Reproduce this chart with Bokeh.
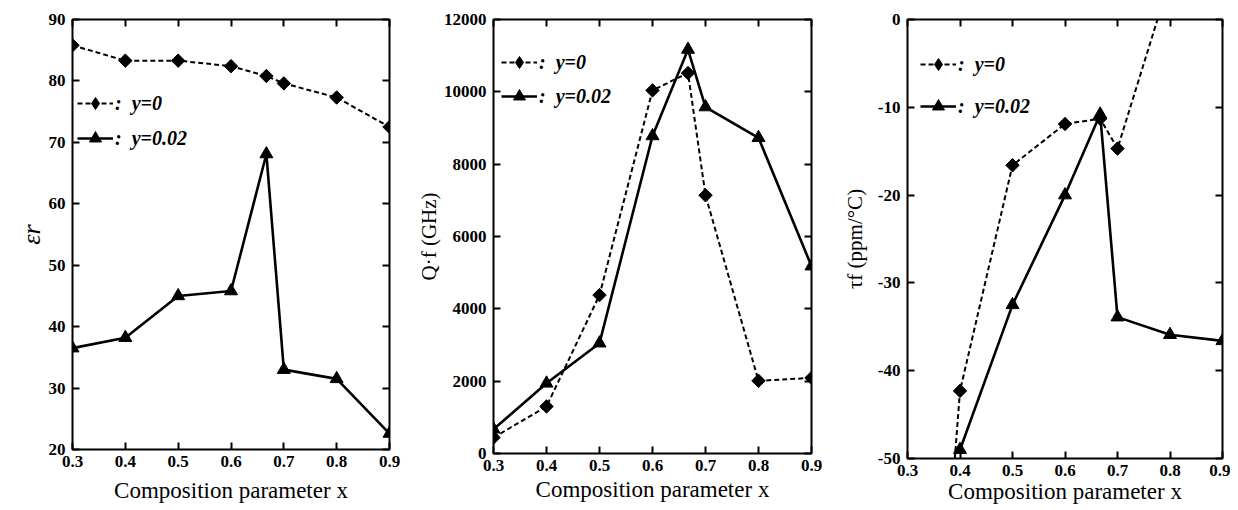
import numpy as np
from bokeh.plotting import figure
from bokeh.layouts import row
from bokeh.models import (Range1d, FixedTicker, LinearAxis, Legend, LegendItem,
                          CustomJSTickFormatter)
from bokeh.embed import file_html
from bokeh.resources import INLINE

# ---- data ----
x_vals = [0.3, 0.4, 0.5, 0.6, 0.667, 0.7, 0.8, 0.9]
x_ticks = [0.3, 0.4, 0.5, 0.6, 0.7, 0.8, 0.9]

eps_y0 = [85.8, 83.3, 83.3, 82.4, 80.8, 79.6, 77.3, 72.5]
eps_y002 = [36.5, 38.2, 45.0, 45.8, 68.1, 33.0, 31.5, 22.6]

qf_y0 = [440, 1300, 4380, 10040, 10520, 7140, 2010, 2090]
qf_y002 = [670, 1940, 3050, 8780, 11170, 9580, 8730, 5180]

tau_x_y0 = [0.3, 0.4, 0.5, 0.6, 0.667, 0.7, 0.8]
tau_y0 = [-120.0, -42.3, -16.6, -11.9, -11.3, -14.7, 4.6]
tau_x_y002 = [0.4, 0.5, 0.6, 0.667, 0.7, 0.8, 0.9]
tau_y002 = [-49.0, -32.5, -20.0, -10.8, -33.9, -35.9, -36.6]

eps_ticks = [20, 30, 40, 50, 60, 70, 80, 90]
qf_ticks = [0, 2000, 4000, 6000, 8000, 10000, 12000]
tau_ticks = [-50, -40, -30, -20, -10, 0]

legend_labels = [":  y=0", ":  y=0.02"]
x_label = "Composition parameter x"
y_labels = ["εr", "Q·f (GHz)", "τf (ppm/°C)"]

SERIF = "Liberation Serif"


def panel(xa, ya, xb, yb, yrange, yticks, ylabel, fw, fh, bl, br, bt, bb,
          leg_loc, leg_spacing, ylabel_size, ylabel_style, ylabel_standoff,
          xlabel_standoff):
    p = figure(output_backend="svg", toolbar_location=None,
               frame_width=fw, frame_height=fh,
               min_border_left=bl, min_border_right=br,
               min_border_top=bt, min_border_bottom=bb,
               x_range=Range1d(0.3, 0.9), y_range=Range1d(*yrange),
               background_fill_color="white", border_fill_color="white")
    p.grid.visible = False
    p.outline_line_color = "black"
    p.outline_line_width = 2
    for ax in (p.xaxis[0], p.yaxis[0]):
        ax.axis_line_color = None
        ax.major_tick_in = 7
        ax.major_tick_out = 0
        ax.major_tick_line_width = 2
        ax.minor_tick_line_color = None
        ax.major_label_text_font = SERIF
        ax.major_label_text_font_style = "bold"
        ax.major_label_text_font_size = "17px"
        ax.major_label_text_color = "black"
        ax.axis_label_text_font = SERIF
        ax.axis_label_text_color = "black"
    p.xaxis[0].ticker = FixedTicker(ticks=x_ticks)
    p.xaxis[0].formatter = CustomJSTickFormatter(code="return tick.toFixed(1)")
    p.yaxis[0].ticker = FixedTicker(ticks=yticks)
    p.yaxis[0].formatter = CustomJSTickFormatter(code="return tick.toFixed(0)")
    p.xaxis[0].axis_label = x_label
    p.xaxis[0].axis_label_text_font_size = "23px"
    p.xaxis[0].axis_label_text_font_style = "normal"
    p.xaxis[0].axis_label_standoff = xlabel_standoff
    p.xaxis[0].major_label_standoff = 6
    p.yaxis[0].axis_label = ylabel
    p.yaxis[0].axis_label_text_font_size = ylabel_size
    p.yaxis[0].axis_label_text_font_style = ylabel_style
    p.yaxis[0].axis_label_standoff = ylabel_standoff
    p.yaxis[0].major_label_standoff = 7

    blank = CustomJSTickFormatter(code="return ''")
    top = LinearAxis(ticker=FixedTicker(ticks=x_ticks), formatter=blank,
                     axis_line_color=None, major_tick_in=7, major_tick_out=0,
                     major_tick_line_width=2, minor_tick_line_color=None,
                     major_label_standoff=0)
    right = LinearAxis(ticker=FixedTicker(ticks=yticks), formatter=blank,
                       axis_line_color=None, major_tick_in=7, major_tick_out=0,
                       major_tick_line_width=2, minor_tick_line_color=None,
                       major_label_standoff=0)
    p.add_layout(top, "above")
    p.add_layout(right, "right")

    l0 = p.line(xa, ya, line_color="black", line_width=2, line_dash="5 3")
    # diamond (used by the legend), covered by a rotated square of the same colour
    d0 = p.scatter(xa, ya, marker="diamond", size=12,
                   fill_color="black", line_color="black")
    p.scatter(xa, ya, marker="square", angle=np.pi / 4, size=9.5,
              fill_color="black", line_color="black")
    l1 = p.line(xb, yb, line_color="black", line_width=2.6)
    s1 = p.scatter(xb, yb, marker="triangle", size=13,
                   fill_color="black", line_color="black")

    leg = Legend(items=[LegendItem(label=legend_labels[0], renderers=[l0, d0]),
                        LegendItem(label=legend_labels[1], renderers=[l1, s1])],
                 location=leg_loc, orientation="vertical",
                 border_line_color=None, background_fill_alpha=0,
                 padding=0, margin=0, spacing=leg_spacing,
                 glyph_width=36, glyph_height=30, label_height=30,
                 label_standoff=2,
                 label_text_font=SERIF, label_text_font_style="bold italic",
                 label_text_font_size="20px", label_text_color="black")
    p.add_layout(leg)
    return p


p1 = panel(x_vals, eps_y0, x_vals, eps_y002, (20, 90), eps_ticks, y_labels[0],
           317, 430, 72, 20, 19, 55, (5, 296), 5, "26px", "italic", 0, 8)
p2 = panel(x_vals, qf_y0, x_vals, qf_y002, (0, 12000), qf_ticks, y_labels[1],
           318, 434, 84, 20, 17, 53, (8, 342), 4, "21px", "normal", 0, 3)
p3 = panel(tau_x_y0, tau_y0, tau_x_y002, tau_y002, (-50, 0), tau_ticks, y_labels[2],
           315, 439, 76, 8, 15, 50, (13, 337), 12, "21px", "normal", 8, 0)

layout = row(p1, p2, p3, spacing=0)
open("out.html", "w").write(file_html(layout, INLINE))
